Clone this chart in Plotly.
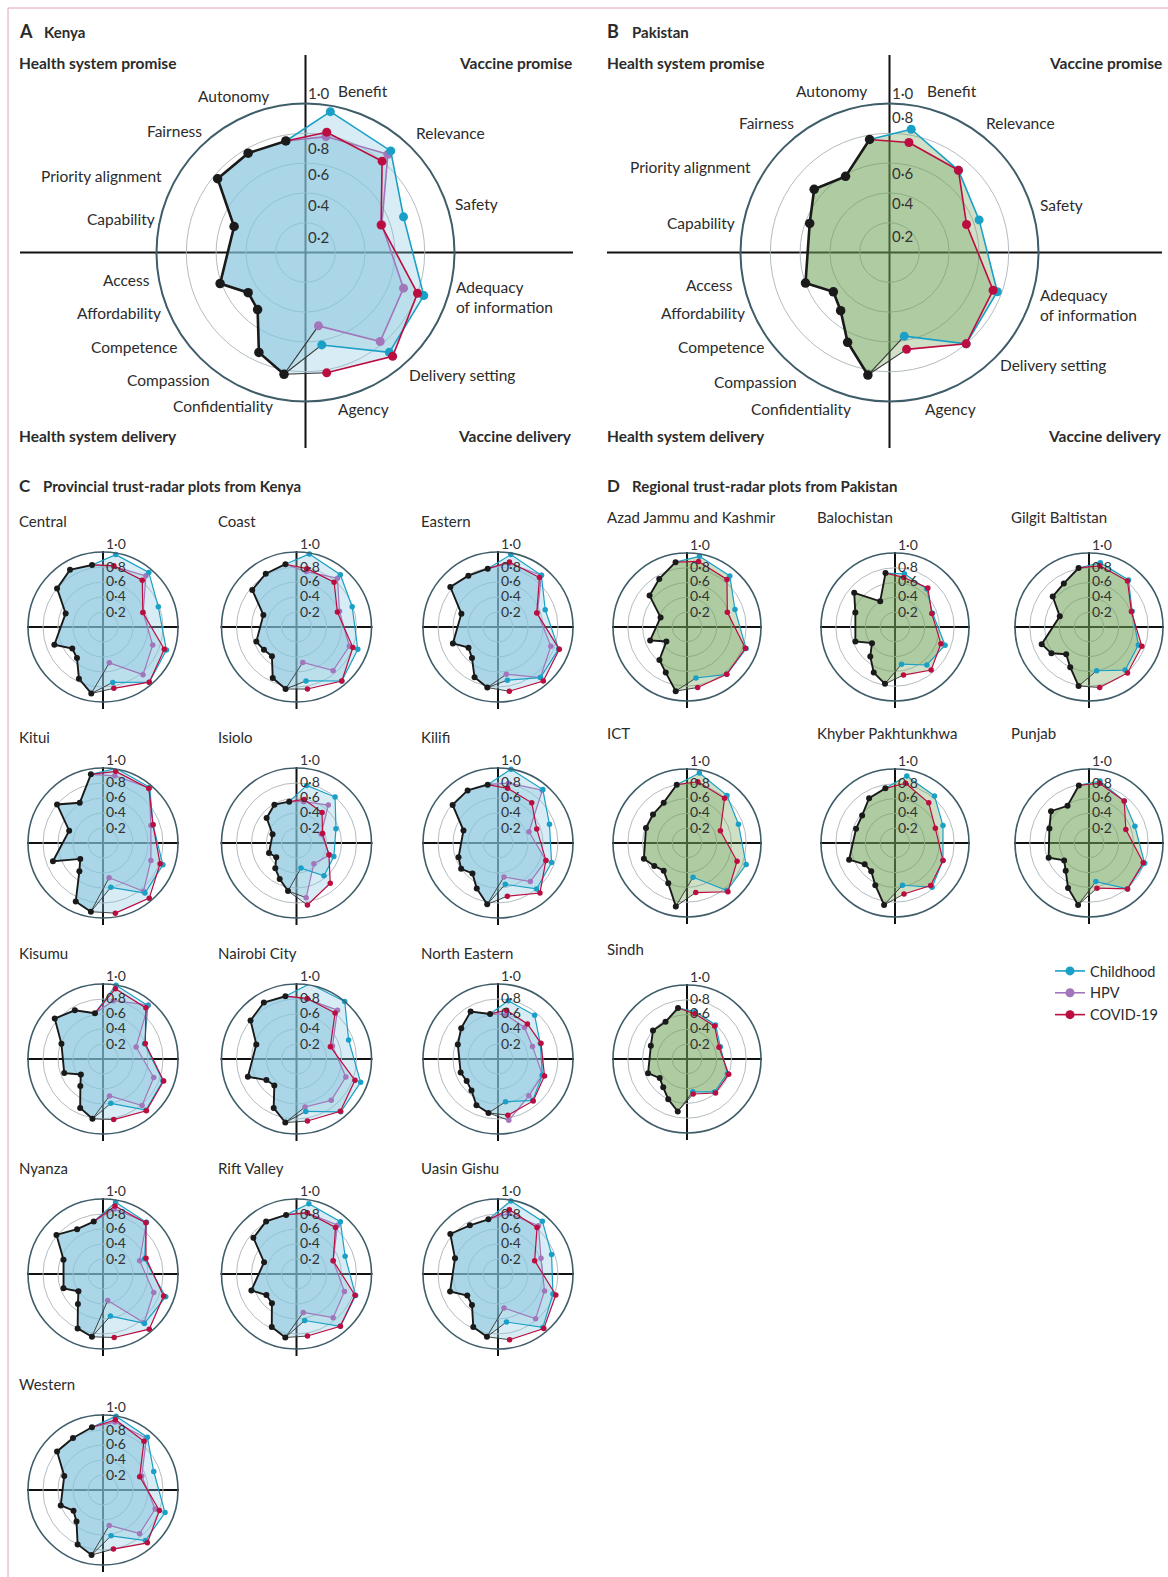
import plotly.graph_objects as go

W, H = 1168, 1577
FONT = "Lato"
INK = "#2b2b2b"
GRID = "#b3bcc1"
RIM = "#3f5d69"

# Trust dimensions and their angular position (degrees clockwise from 12 o'clock)
VACCINE_ITEMS = ["Benefit", "Relevance", "Safety", "Adequacy of information", "Delivery setting", "Agency"]
VACCINE_THETA = [10, 40, 70, 110, 140, 170]
HEALTH_ITEMS = ["Autonomy", "Fairness", "Priority alignment", "Capability", "Access",
                "Affordability", "Competence", "Compassion", "Confidentiality"]
HEALTH_THETA = [350, 330, 310, 290, 250, 235, 220, 205, 190]
RADIAL_TICKS = [0.2, 0.4, 0.6, 0.8, 1.0]
RADIAL_TEXT = ["0·2", "0·4", "0·6", "0·8", "1·0"]
SERIES = ["Childhood", "HPV", "COVID-19"]
QUADRANTS = ["Health system promise", "Vaccine promise", "Health system delivery", "Vaccine delivery"]

KENYA_REGIONS = ["Central", "Coast", "Eastern", "Kitui", "Isiolo", "Kilifi", "Kisumu",
                 "Nairobi City", "North Eastern", "Nyanza", "Rift Valley", "Uasin Gishu", "Western"]
PAKISTAN_REGIONS = ["Azad Jammu and Kashmir", "Balochistan", "Gilgit Baltistan", "ICT",
                    "Khyber Pakhtunkhwa", "Punjab", "Sindh"]

# Health-system trust scores (HEALTH_ITEMS order)
HEALTH = {
    "Kenya": [0.76, 0.77, 0.77, 0.51, 0.61, 0.47, 0.50, 0.74, 0.83],
    "Pakistan": [0.77, 0.59, 0.66, 0.57, 0.60, 0.46, 0.51, 0.665, 0.835],
    "Central": [0.84, 0.88, 0.80, 0.53, 0.69, 0.50, 0.54, 0.76, 0.90],
    "Coast": [0.85, 0.82, 0.77, 0.47, 0.57, 0.53, 0.51, 0.75, 0.84],
    "Eastern": [0.79, 0.79, 0.83, 0.52, 0.64, 0.48, 0.54, 0.74, 0.82],
    "Kitui": [0.93, 0.62, 0.80, 0.48, 0.71, 0.37, 0.49, 0.86, 0.93],
    "Isiolo": [0.56, 0.59, 0.52, 0.34, 0.39, 0.33, 0.44, 0.53, 0.65],
    "Kilifi": [0.79, 0.81, 0.79, 0.49, 0.56, 0.60, 0.53, 0.67, 0.83],
    "Kisumu": [0.62, 0.75, 0.84, 0.59, 0.55, 0.36, 0.47, 0.72, 0.81],
    "Nairobi City": [0.85, 0.87, 0.80, 0.57, 0.69, 0.49, 0.46, 0.72, 0.86],
    "North Eastern": [0.61, 0.73, 0.64, 0.57, 0.53, 0.51, 0.55, 0.68, 0.73],
    "Nyanza": [0.71, 0.69, 0.81, 0.56, 0.56, 0.40, 0.52, 0.80, 0.85],
    "Rift Valley": [0.80, 0.81, 0.75, 0.46, 0.64, 0.49, 0.51, 0.78, 0.86],
    "Uasin Gishu": [0.74, 0.75, 0.83, 0.61, 0.68, 0.50, 0.54, 0.78, 0.85],
    "Western": [0.85, 0.80, 0.80, 0.55, 0.60, 0.48, 0.55, 0.80, 0.88],
    "Azad Jammu and Kashmir": [0.89, 0.75, 0.66, 0.38, 0.53, 0.34, 0.58, 0.68, 0.88],
    "Balochistan": [0.74, 0.40, 0.72, 0.57, 0.57, 0.38, 0.52, 0.68, 0.78],
    "Gilgit Baltistan": [0.81, 0.68, 0.64, 0.42, 0.68, 0.62, 0.48, 0.60, 0.81],
    "ICT": [0.80, 0.63, 0.60, 0.59, 0.62, 0.54, 0.49, 0.60, 0.87],
    "Khyber Pakhtunkhwa": [0.75, 0.70, 0.58, 0.56, 0.66, 0.50, 0.50, 0.63, 0.85],
    "Punjab": [0.79, 0.58, 0.67, 0.57, 0.58, 0.41, 0.49, 0.67, 0.85],
    "Sindh": [0.70, 0.58, 0.60, 0.52, 0.56, 0.45, 0.50, 0.60, 0.72],
}

# Vaccine trust scores (VACCINE_ITEMS order)
CHILDHOOD = {
    "Kenya": [0.96, 0.89, 0.70, 0.845, 0.875, 0.63],
    "Pakistan": [0.84, 0.72, 0.64, 0.77, 0.80, 0.57],
    "Central": [0.98, 0.95, 0.785, 0.90, 0.96, 0.75],
    "Coast": [0.99, 0.91, 0.79, 0.87, 0.94, 0.73],
    "Eastern": [0.98, 0.90, 0.67, 0.86, 0.88, 0.72],
    "Kitui": [1.01, 0.97, 0.71, 0.85, 0.87, 0.60],
    "Isiolo": [0.78, 0.80, 0.56, 0.53, 0.57, 0.34],
    "Kilifi": [1.00, 0.93, 0.73, 0.76, 0.80, 0.56],
    "Kisumu": [1.00, 0.93, 0.59, 0.85, 0.89, 0.60],
    "Nairobi City": [1.02, 1.00, 0.74, 0.91, 0.92, 0.71],
    "North Eastern": [0.79, 0.76, 0.60, 0.63, 0.72, 0.58],
    "Nyanza": [0.97, 0.90, 0.59, 0.89, 0.86, 0.57],
    "Rift Valley": [0.95, 0.91, 0.69, 0.84, 0.91, 0.63],
    "Uasin Gishu": [0.99, 0.92, 0.76, 0.78, 0.93, 0.65],
    "Western": [1.00, 0.92, 0.72, 0.88, 0.88, 0.62],
    "Azad Jammu and Kashmir": [0.97, 0.90, 0.69, 0.85, 0.835, 0.70],
    "Balochistan": [0.73, 0.67, 0.54, 0.72, 0.67, 0.51],
    "Gilgit Baltistan": [0.88, 0.83, 0.62, 0.71, 0.76, 0.60],
    "ICT": [0.96, 0.84, 0.74, 0.85, 0.84, 0.47],
    "Khyber Pakhtunkhwa": [0.92, 0.83, 0.69, 0.69, 0.78, 0.58],
    "Punjab": [0.85, 0.74, 0.66, 0.80, 0.81, 0.53],
    "Sindh": [0.65, 0.60, 0.48, 0.58, 0.58, 0.45],
}
HPV = {
    "Kenya": [0.79, 0.86, 0.545, 0.70, 0.78, 0.50],
    "Central": [0.82, 0.89, 0.57, 0.705, 0.83, 0.485],
    "Coast": [0.75, 0.85, 0.61, 0.75, 0.76, 0.48],
    "Eastern": [0.86, 0.90, 0.56, 0.75, 0.88, 0.64],
    "Kitui": [0.91, 0.96, 0.68, 0.68, 0.84, 0.47],
    "Isiolo": [0.56, 0.66, 0.35, 0.47, 0.36, 0.74],
    "Kilifi": [0.81, 0.92, 0.44, 0.68, 0.67, 0.46],
    "Kisumu": [0.79, 0.94, 0.47, 0.72, 0.81, 0.50],
    "Nairobi City": [0.81, 0.85, 0.51, 0.70, 0.72, 0.65],
    "North Eastern": [0.60, 0.55, 0.49, 0.63, 0.64, 0.83],
    "Nyanza": [0.88, 0.90, 0.52, 0.72, 0.85, 0.36],
    "Rift Valley": [0.83, 0.85, 0.52, 0.68, 0.76, 0.52],
    "Uasin Gishu": [0.82, 0.84, 0.61, 0.66, 0.78, 0.46],
    "Western": [0.92, 0.90, 0.55, 0.74, 0.76, 0.48],
}
COVID = {
    "Kenya": [0.82, 0.80, 0.54, 0.80, 0.91, 0.82],
    "Pakistan": [0.75, 0.72, 0.55, 0.74, 0.80, 0.66],
    "Central": [0.83, 0.815, 0.565, 0.87, 0.96, 0.83],
    "Coast": [0.79, 0.78, 0.58, 0.80, 0.94, 0.84],
    "Eastern": [0.88, 0.86, 0.55, 0.87, 0.94, 0.87],
    "Kitui": [0.97, 0.95, 0.71, 0.81, 0.96, 0.95],
    "Isiolo": [0.59, 0.53, 0.37, 0.46, 0.70, 0.84],
    "Kilifi": [0.74, 0.70, 0.55, 0.68, 0.87, 0.72],
    "Kisumu": [0.95, 0.89, 0.60, 0.86, 0.90, 0.82],
    "Nairobi City": [0.82, 0.80, 0.48, 0.83, 0.91, 0.84],
    "North Eastern": [0.66, 0.61, 0.61, 0.66, 0.73, 0.76],
    "Nyanza": [0.92, 0.89, 0.61, 0.86, 0.96, 0.86],
    "Rift Valley": [0.83, 0.81, 0.52, 0.83, 0.91, 0.84],
    "Uasin Gishu": [0.87, 0.81, 0.52, 0.82, 0.95, 0.89],
    "Western": [0.95, 0.85, 0.52, 0.80, 0.92, 0.80],
    "Azad Jammu and Kashmir": [0.90, 0.84, 0.58, 0.84, 0.835, 0.83],
    "Balochistan": [0.68, 0.69, 0.53, 0.66, 0.76, 0.66],
    "Gilgit Baltistan": [0.84, 0.81, 0.61, 0.76, 0.81, 0.83],
    "ICT": [0.84, 0.79, 0.48, 0.72, 0.86, 0.68],
    "Khyber Pakhtunkhwa": [0.82, 0.71, 0.58, 0.69, 0.75, 0.70],
    "Punjab": [0.82, 0.74, 0.53, 0.78, 0.81, 0.62],
    "Sindh": [0.62, 0.58, 0.46, 0.60, 0.60, 0.48],
}

SERIES_COLOR = {"Childhood": "#1aa0c6", "HPV": "#a276ba", "COVID-19": "#bb0d3f"}
DRAW_ORDER = ["HPV", "Childhood", "COVID-19"]
KENYA_FILL = "rgba(134,197,222,0.33)"
PAKISTAN_FILL = "rgba(110,160,85,0.33)"
LABEL_SIZE = 15.5

fig = go.Figure()
annotations, shapes, polars = [], [], {}


def label(x, y, s, size=LABEL_SIZE, anchor="left", bold=False, color=INK):
    # annotation boxes carry a small inner padding; compensate so text edges land on x
    dx = {"left": -2, "right": 2, "center": 0}[anchor]
    annotations.append(dict(
        x=(x + dx) / W, y=1 - y / H, xref="paper", yref="paper", showarrow=False,
        text=f"<b>{s}</b>" if bold else s, xanchor=anchor, yanchor="middle", align=anchor,
        font=dict(family=FONT, size=size, color=color)))


def hline(x0, x1, y, width=2, color="#111111"):
    shapes.append(dict(type="line", xref="paper", yref="paper", layer="below",
                       x0=x0 / W, x1=x1 / W, y0=1 - y / H, y1=1 - y / H,
                       line=dict(color=color, width=width)))


def vline(x, y0, y1, width=2, color="#111111"):
    shapes.append(dict(type="line", xref="paper", yref="paper", layer="below",
                       x0=x / W, x1=x / W, y0=1 - y0 / H, y1=1 - y1 / H,
                       line=dict(color=color, width=width)))


def radar(k, region, series, cx, cy, R, big, fill, tick_shift, legend=False):
    pid = "polar" if k == 1 else f"polar{k}"
    polars[pid] = dict(
        domain=dict(x=[(cx - R) / W, (cx + R) / W], y=[1 - (cy + R) / H, 1 - (cy - R) / H]),
        bgcolor="rgba(0,0,0,0)",
        radialaxis=dict(range=[0, 1], tickvals=RADIAL_TICKS[:-1], showticklabels=False, ticks="",
                        showline=False, gridcolor=GRID, gridwidth=1),
        angularaxis=dict(rotation=90, direction="clockwise", showticklabels=False, ticks="",
                         showgrid=False, showline=True, linecolor=RIM, linewidth=2 if big else 1.6),
    )
    health = HEALTH[region]
    ms = 9 if big else 5.5
    lw = 1.6 if big else 1.2
    poly_theta = VACCINE_THETA + HEALTH_THETA[::-1]
    common = dict(subplot=pid, hoverinfo="skip", cliponaxis=False)
    for name, vals in series:
        fig.add_trace(go.Scatterpolar(r=vals + health[::-1], theta=poly_theta, mode="none",
                                      fill="toself", fillcolor=fill, showlegend=False, **common))
    lookup = dict(series)
    names = [n for n in DRAW_ORDER if n in lookup]
    # closing edge between Agency and Confidentiality
    for name in names:
        vals = lookup[name]
        fig.add_trace(go.Scatterpolar(r=[vals[-1], health[-1]], theta=[VACCINE_THETA[-1], HEALTH_THETA[-1]],
                                      mode="lines", line=dict(color="#333333", width=1.1 if big else 0.9),
                                      showlegend=False, **common))
    for name in names:
        vals = lookup[name]
        col = SERIES_COLOR[name]
        fig.add_trace(go.Scatterpolar(r=[health[0], vals[0]], theta=[HEALTH_THETA[0], VACCINE_THETA[0]],
                                      mode="lines", line=dict(color=col, width=lw), showlegend=False, **common))
        fig.add_trace(go.Scatterpolar(r=vals, theta=VACCINE_THETA, mode="lines+markers", name=name,
                                      line=dict(color=col, width=lw), marker=dict(color=col, size=ms),
                                      showlegend=legend, legendrank=SERIES.index(name) + 1, **common))
    fig.add_trace(go.Scatterpolar(r=health, theta=HEALTH_THETA, mode="lines+markers",
                                  line=dict(color="#1a1a1a", width=2.6 if big else 1.9),
                                  marker=dict(color="#1a1a1a", size=ms + 0.5), showlegend=False, **common))
    # radial scale labels beside the vertical axis
    for v, t, s in zip(RADIAL_TICKS, RADIAL_TEXT, tick_shift):
        label(cx + 13, cy - v * R + s, t, size=15 if big else 14, anchor="center", color="#333333")


# ---- Panel A (Kenya) and B (Pakistan) ----
R_BIG = 149
big_panels = [
    ("Kenya", "A", 305.5, 252.5, 20, 573, 19, 572, KENYA_FILL, [14.3, 12.1, 10.9, 14.7, -10.5],
     [("Childhood", CHILDHOOD["Kenya"]), ("HPV", HPV["Kenya"]), ("COVID-19", COVID["Kenya"])]),
    ("Pakistan", "B", 889.5, 252.5, 607, 1162, 607, 1162, PAKISTAN_FILL, [13.3, 10.1, 9.9, -16.3, -10.5],
     [("Childhood", CHILDHOOD["Pakistan"]), ("COVID-19", COVID["Pakistan"])]),
]
# per-panel anchors for the dimension names (x, y, alignment)
BIG_LABEL_POS = {
    "Kenya": {
        "Autonomy": (269, 96, "right"), "Fairness": (202, 131, "right"),
        "Priority alignment": (162, 176, "right"), "Capability": (155, 219, "right"),
        "Access": (150, 280, "right"), "Affordability": (161, 313, "right"),
        "Competence": (177, 347, "right"), "Compassion": (210, 380, "right"),
        "Confidentiality": (273, 406, "right"), "Benefit": (338, 91, "left"),
        "Relevance": (416, 133, "left"), "Safety": (455, 204, "left"),
        "Adequacy of information": (456, 297, "left"), "Delivery setting": (409, 375, "left"),
        "Agency": (338, 409, "left"),
    },
    "Pakistan": {
        "Autonomy": (867, 91, "right"), "Fairness": (794, 123, "right"),
        "Priority alignment": (751, 167, "right"), "Capability": (735, 223, "right"),
        "Access": (733, 285, "right"), "Affordability": (745, 313, "right"),
        "Competence": (764, 347, "right"), "Compassion": (797, 382, "right"),
        "Confidentiality": (851, 409, "right"), "Benefit": (927, 91, "left"),
        "Relevance": (986, 123, "left"), "Safety": (1040, 205, "left"),
        "Adequacy of information": (1040, 305, "left"), "Delivery setting": (1000, 365, "left"),
        "Agency": (925, 409, "left"),
    },
}

k = 0
for country, letter, cx, cy, x0, x1, tx, rx, fill, shift, series in big_panels:
    k += 1
    hline(x0, x1, cy)
    vline(cx, 55, 448)
    radar(k, country, series, cx, cy, R_BIG, True, fill, shift, legend=(country == "Kenya"))
    label(tx, 31, letter, size=18, bold=True)
    label(tx + 25, 32, country, size=15, bold=True)
    label(tx, 63, QUADRANTS[0], bold=True)
    label(rx, 63, QUADRANTS[1], anchor="right", bold=True)
    label(tx, 436, QUADRANTS[2], bold=True)
    label(rx, 436, QUADRANTS[3], anchor="right", bold=True)
    for name in HEALTH_ITEMS + VACCINE_ITEMS:
        x, y, a = BIG_LABEL_POS[country][name]
        txt = "Adequacy<br>of information" if name == "Adequacy of information" else name
        label(x, y, txt, anchor=a)

# ---- Panel C (Kenyan provinces) and D (Pakistani regions) ----
label(19, 485, "C", size=17, bold=True)
label(43, 486, "Provincial trust-radar plots from Kenya", size=15, bold=True)
label(607, 485, "D", size=17, bold=True)
label(632, 486, "Regional trust-radar plots from Pakistan", size=15, bold=True)

SMALL_SHIFT = [-0.5, -2, -1.7, -1, -8.7]
KENYA_COLS = [103, 296.5, 498]
KENYA_TITLE_X = [19, 218, 421]
PAK_COLS = [687, 895, 1089]
PAK_TITLE_X = [607, 817, 1011]
ROWS = [627, 843, 1059, 1274, 1490]

for i, region in enumerate(KENYA_REGIONS):
    k += 1
    col, row = i % 3, i // 3
    cx, cy, R = KENYA_COLS[col], ROWS[row], 75
    hline(cx - R - 1, cx + R + 1, cy)
    vline(cx, cy - R - 1, cy + R + 7)
    radar(k, region, [("Childhood", CHILDHOOD[region]), ("HPV", HPV[region]), ("COVID-19", COVID[region])],
          cx, cy, R, False, KENYA_FILL, SMALL_SHIFT)
    label(KENYA_TITLE_X[col], cy - 106, region, size=15)

for i, region in enumerate(PAKISTAN_REGIONS):
    k += 1
    col, row = i % 3, i // 3
    cx, cy, R = PAK_COLS[col], ROWS[row], 74
    hline(cx - R - 1, cx + R + 1, cy)
    vline(cx, cy - R - 1, cy + R + 7)
    radar(k, region, [("Childhood", CHILDHOOD[region]), ("COVID-19", COVID[region])],
          cx, cy, R, False, PAKISTAN_FILL, SMALL_SHIFT)
    label(PAK_TITLE_X[col], cy - 110, region, size=15)

# page frame rules
shapes.append(dict(type="line", xref="paper", yref="paper", x0=8 / W, x1=8 / W, y0=0, y1=1 - 8 / H,
                   line=dict(color="#e0a2b6", width=1)))
shapes.append(dict(type="line", xref="paper", yref="paper", x0=8 / W, x1=1, y0=1 - 8 / H, y1=1 - 8 / H,
                   line=dict(color="#e0a2b6", width=1)))

fig.update_layout(
    width=W, height=H, margin=dict(l=0, r=0, t=0, b=0),
    paper_bgcolor="white", plot_bgcolor="white",
    font=dict(family=FONT, size=15, color=INK),
    annotations=annotations, shapes=shapes,
    legend=dict(x=1050 / W, y=1 - 955 / H, xanchor="left", yanchor="top",
                font=dict(family=FONT, size=14.5, color=INK), bgcolor="rgba(0,0,0,0)",
                tracegroupgap=0, itemwidth=30),
    **polars,
)
fig.write_html("out.html")
